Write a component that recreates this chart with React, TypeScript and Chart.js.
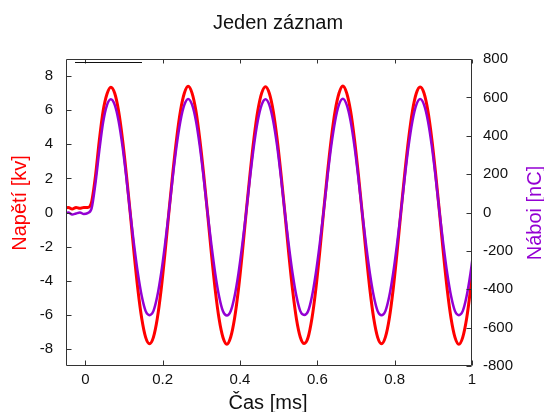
import React, { useEffect, useRef } from "react";
import { Chart, registerables } from "chart.js";

Chart.register(...registerables);

// Time axis [ms]
const timeMs = [
  -0.054, -0.044, -0.034, -0.024, -0.014, -0.004, 0.006, 0.016, 0.026, 0.036,
  0.046, 0.056, 0.066, 0.076, 0.086, 0.096, 0.106, 0.116, 0.126, 0.136,
  0.146, 0.156, 0.166, 0.176, 0.186, 0.196, 0.206, 0.216, 0.226, 0.236,
  0.246, 0.256, 0.266, 0.276, 0.286, 0.296, 0.306, 0.316, 0.326, 0.336,
  0.346, 0.356, 0.366, 0.376, 0.386, 0.396, 0.406, 0.416, 0.426, 0.436,
  0.446, 0.456, 0.466, 0.476, 0.486, 0.496, 0.506, 0.516, 0.526, 0.536,
  0.546, 0.556, 0.566, 0.576, 0.586, 0.596, 0.606, 0.616, 0.626, 0.636,
  0.646, 0.656, 0.666, 0.676, 0.686, 0.696, 0.706, 0.716, 0.726, 0.736,
  0.746, 0.756, 0.766, 0.776, 0.786, 0.796, 0.806, 0.816, 0.826, 0.836,
  0.846, 0.856, 0.866, 0.876, 0.886, 0.896, 0.906, 0.916, 0.926, 0.936,
  0.946, 0.956, 0.966, 0.976, 0.986, 0.996, 1.006,
];

// Napětí [kV] (left axis)
const napeti = [
  0.25, 0.3, 0.2, 0.3, 0.25, 0.3, 0.3, 0.6, 2.1, 4.2,
  5.95, 6.95, 7.35,
  6.99, 5.95, 4.32, 2.27, 0.0, -2.38, -4.53, -6.23, -7.32, -7.7,
  -7.32, -6.23, -4.53, -2.38, 0.0, 2.27, 4.32, 5.95, 6.99, 7.4,
  7.0, 5.96, 4.3, 2.25, -0.02, -2.4, -4.55, -6.25, -7.33, -7.72,
  -7.3, -6.2, -4.5, -2.36, 0.02, 2.28, 4.33, 5.96, 7.0, 7.38,
  6.98, 5.94, 4.31, 2.26, 0.0, -2.39, -4.54, -6.24, -7.31, -7.68,
  -7.33, -6.22, -4.52, -2.37, 0.01, 2.27, 4.32, 5.95, 6.99, 7.42,
  7.0, 5.95, 4.3, 2.26, -0.01, -2.38, -4.53, -6.23, -7.32, -7.7,
  -7.31, -6.23, -4.53, -2.38, 0.0, 2.27, 4.31, 5.95, 6.99, 7.36,
  6.99, 5.95, 4.32, 2.27, 0.0, -2.38, -4.53, -6.23, -7.32, -7.72,
  -7.32, -6.23, -4.53, -2.38,
];

// Náboj [nC] (right axis)
const naboj = [
  -5, 0, -10, -5, 0, -8, -3, 20, 150, 320,
  470, 560, 590,
  561, 477, 347, 182, 0, -167, -318, -437, -514, -535,
  -514, -437, -318, -167, 0, 182, 347, 477, 561, 592,
  562, 478, 346, 181, -1, -168, -319, -438, -515, -537,
  -513, -436, -317, -166, 1, 183, 348, 478, 561, 590,
  560, 476, 347, 182, 0, -167, -318, -437, -514, -534,
  -515, -438, -318, -167, 0, 182, 347, 477, 562, 593,
  561, 477, 346, 182, 0, -168, -318, -437, -514, -536,
  -514, -437, -318, -167, 0, 181, 347, 477, 561, 591,
  561, 477, 347, 182, 0, -167, -318, -437, -514, -535,
  -514, -437, -318, -167,
];

const xTicks = [0, 0.2, 0.4, 0.6, 0.8, 1];
const yTicks = [-8, -6, -4, -2, 0, 2, 4, 6, 8];
const y2Ticks = [-800, -600, -400, -200, 0, 200, 400, 600, 800];

const TITLE = "Jeden záznam";
const X_TITLE = "Čas [ms]";
const Y_TITLE = "Napětí [kv]";
const Y2_TITLE = "Náboi [nC]";

const RED = "#ff0000";
const PURPLE = "#9400d3";
const FONT = "'Liberation Sans', Arial, Helvetica, sans-serif";

export default function App() {
  const ref = useRef<HTMLCanvasElement>(null);

  useEffect(() => {
    if (!ref.current) return;
    const deco = {
      id: "deco",
      afterDraw(chart: any) {
        const { ctx, chartArea: a, scales } = chart;
        const L = Math.round(a.left) + 0.5;
        const R = Math.round(a.right) - 0.5;
        const T = Math.round(a.top) + 0.5;
        const B = Math.round(a.bottom) - 0.5;
        ctx.save();
        ctx.strokeStyle = "#333";
        ctx.lineWidth = 1;
        ctx.beginPath();
        ctx.rect(L, T, R - L, B - T);
        xTicks.forEach((v) => {
          const px = Math.round(scales.x.getPixelForValue(v)) + 0.5;
          ctx.moveTo(px, B);
          ctx.lineTo(px, B - 5);
          ctx.moveTo(px, T);
          ctx.lineTo(px, T + 4);
        });
        yTicks.forEach((v) => {
          const py = Math.round(scales.y.getPixelForValue(v)) + 0.5;
          ctx.moveTo(L, py);
          ctx.lineTo(L + 5, py);
        });
        y2Ticks.forEach((v) => {
          const py = Math.round(scales.y2.getPixelForValue(v)) + 0.5;
          ctx.moveTo(R, py);
          ctx.lineTo(R - 5, py);
        });
        ctx.stroke();
        // key sample line
        ctx.strokeStyle = "#111";
        ctx.beginPath();
        ctx.moveTo(75, 62.5);
        ctx.lineTo(142, 62.5);
        ctx.stroke();

        ctx.font = `20px ${FONT}`;
        ctx.textAlign = "center";
        ctx.textBaseline = "alphabetic";
        ctx.fillStyle = "#111";
        ctx.fillText(TITLE, 278, 29);
        ctx.fillText(X_TITLE, 268, 409);

        ctx.save();
        ctx.translate(26, 203);
        ctx.rotate(-Math.PI / 2);
        ctx.fillStyle = RED;
        ctx.fillText(Y_TITLE, 0, 0);
        ctx.restore();

        ctx.save();
        ctx.translate(541, 213);
        ctx.rotate(-Math.PI / 2);
        ctx.fillStyle = PURPLE;
        ctx.fillText(Y2_TITLE, 0, 0);
        ctx.restore();
        ctx.restore();
      },
    };

    const tickFont = { family: FONT, size: 15 };
    const chart = new Chart(ref.current, {
      type: "line",
      data: {
        datasets: [
          {
            label: "Náboj",
            data: timeMs.map((t, i) => ({ x: t, y: naboj[i] })),
            yAxisID: "y2",
            borderColor: PURPLE,
            backgroundColor: PURPLE,
            borderWidth: 2.5,
            pointRadius: 0,
            cubicInterpolationMode: "monotone",
            order: 0,
          },
          {
            label: "Napětí",
            data: timeMs.map((t, i) => ({ x: t, y: napeti[i] })),
            yAxisID: "y",
            borderColor: RED,
            backgroundColor: RED,
            borderWidth: 3,
            pointRadius: 0,
            cubicInterpolationMode: "monotone",
            order: 1,
          },
        ],
      },
      options: {
        responsive: false,
        maintainAspectRatio: false,
        devicePixelRatio: 1,
        animation: false,
        layout: { padding: { top: 59, left: 0, right: 0, bottom: 0 } },
        plugins: {
          legend: { display: false },
          tooltip: { enabled: false },
          title: { display: false },
        },
        scales: {
          x: {
            type: "linear",
            min: -0.05,
            max: 1,
            afterBuildTicks: (s: any) => {
              s.ticks = xTicks.map((v) => ({ value: v }));
            },
            afterFit: (s: any) => {
              s.height = 46;
            },
            grid: { display: false, drawTicks: false },
            border: { display: false },
            ticks: {
              font: tickFont,
              color: "#111",
              padding: 5,
              maxRotation: 0,
              autoSkip: false,
              callback: (v: any) => `${Math.round(Number(v) * 10) / 10}`,
            },
          },
          y: {
            type: "linear",
            position: "left",
            min: -9,
            max: 9,
            afterBuildTicks: (s: any) => {
              s.ticks = yTicks.map((v) => ({ value: v }));
            },
            afterFit: (s: any) => {
              s.width = 66;
            },
            grid: { display: false, drawTicks: false },
            border: { display: false },
            ticks: { font: tickFont, color: "#111", padding: 13, autoSkip: false },
          },
          y2: {
            type: "linear",
            position: "right",
            min: -800,
            max: 800,
            afterBuildTicks: (s: any) => {
              s.ticks = y2Ticks.map((v) => ({ value: v }));
            },
            afterFit: (s: any) => {
              s.width = 72;
            },
            grid: { display: false, drawTicks: false },
            border: { display: false },
            ticks: { font: tickFont, color: "#111", padding: 11, autoSkip: false },
          },
        },
      },
      plugins: [deco],
    } as any);
    return () => chart.destroy();
  }, []);

  return (
    <div style={{ position: "fixed", left: 0, top: 0, width: 544, height: 412, background: "#fff" }}>
      <canvas ref={ref} width={544} height={412} style={{ width: 544, height: 412, display: "block" }} />
    </div>
  );
}
